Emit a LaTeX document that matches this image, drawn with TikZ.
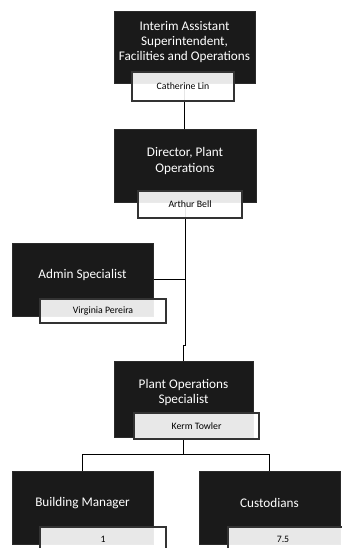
\documentclass[tikz,border=0pt]{standalone}
\usepackage{fontspec}
\setmainfont{Carlito}
\usetikzlibrary{backgrounds}
\definecolor{boxfill}{HTML}{1A1A1A}
\definecolor{boxedge}{HTML}{2A2A2A}
\definecolor{nameedge}{HTML}{333333}
\begin{document}
\begin{tikzpicture}[x=1pt,y=-1pt,
  blackbox/.style={draw=boxedge, line width=0.6pt, fill=boxfill,
    minimum width=141pt, minimum height=73pt, inner sep=0pt},
  titletext/.style={text=white, align=center, inner sep=0pt,
    font=\fontsize{13.2}{15.2}\selectfont},
  namebox/.style={draw=nameedge, line width=1.1pt, fill=white,
    fill opacity=0.9, text opacity=1, text=black, inner sep=0pt,
    minimum width=126pt, minimum height=24pt,
    font=\fontsize{9.8}{11}\selectfont},
  nametext/.style={text=black, inner sep=0pt, font=\fontsize{9.8}{11}\selectfont},
  link/.style={draw=black, line width=0.9pt}]
\useasboundingbox (0,0) rectangle (341,548);

% position boxes
\node[blackbox, minimum width=141pt, minimum height=72pt] (b1) at (184.5,47) {};
\node[blackbox, minimum width=142pt] (b2) at (185,165.5) {};
\node[blackbox] (b3) at (82.5,279.5) {};
\node[blackbox, minimum width=139pt, minimum height=76pt] (b4) at (183.5,399) {};
\node[blackbox] (b5) at (82.5,507.5) {};
\node[blackbox] (b6) at (269.5,507.5) {};

% titles
\node[titletext] (t1) at ([yshift=5pt]b1.center) {Interim Assistant\\Superintendent,\\Facilities and Operations};
\node[titletext] (t2) at ([yshift=4.5pt]b2.center) {Director, Plant\\Operations};
\node[titletext] (t3) at ([yshift=4.5pt]b3.center) {Admin Specialist};
\node[titletext] (t4) at ([yshift=6.5pt]b4.center) {Plant Operations\\Specialist};
\node[titletext] (t5) at ([yshift=4.5pt]b5.center) {Building Manager};
\node[titletext] (t6) at ([yshift=4.5pt]b6.center) {Custodians};

% name tags
\node[namebox, minimum width=102pt, minimum height=29pt] (n1) at (183,86.5) {Catherine Lin};
\node[namebox, minimum width=104pt, minimum height=27pt] (n2) at (190,204.5) {Arthur Bell};
\node[namebox] (n3) at (103,311) {Virginia Pereira};
\node[namebox, minimum width=125pt, minimum height=26pt] (n4) at (196.5,426) {Kerm Towler};
\node[namebox] (n5) at (103,539) {1};
\node[namebox] (n6) at (291,539) {};
\node[nametext] (l6) at (283,539) {7.5};

% reporting lines, drawn underneath the boxes
\coordinate (jog) at (0,345);
\coordinate (bus) at (0,454);
\begin{scope}[on background layer]
  \fill[white] (0,0) rectangle (341,548);
  \draw[link] (b1.south) -- (b1.south |- b2.north);
  \draw[link] (b2.south) -- (b2.south |- jog) -- (b4.north |- jog) -- (b4.north);
  \draw[link] (b3.east) -- (b3.east -| b2.south);
  \draw[link] (b4.south) -- (b4.south |- bus);
  \draw[link] (b5.north |- bus) -- (b6.north |- bus);
  \draw[link] (b5.north |- bus) -- (b5.north);
  \draw[link] (b6.north |- bus) -- (b6.north);
\end{scope}
\end{tikzpicture}
\end{document}
